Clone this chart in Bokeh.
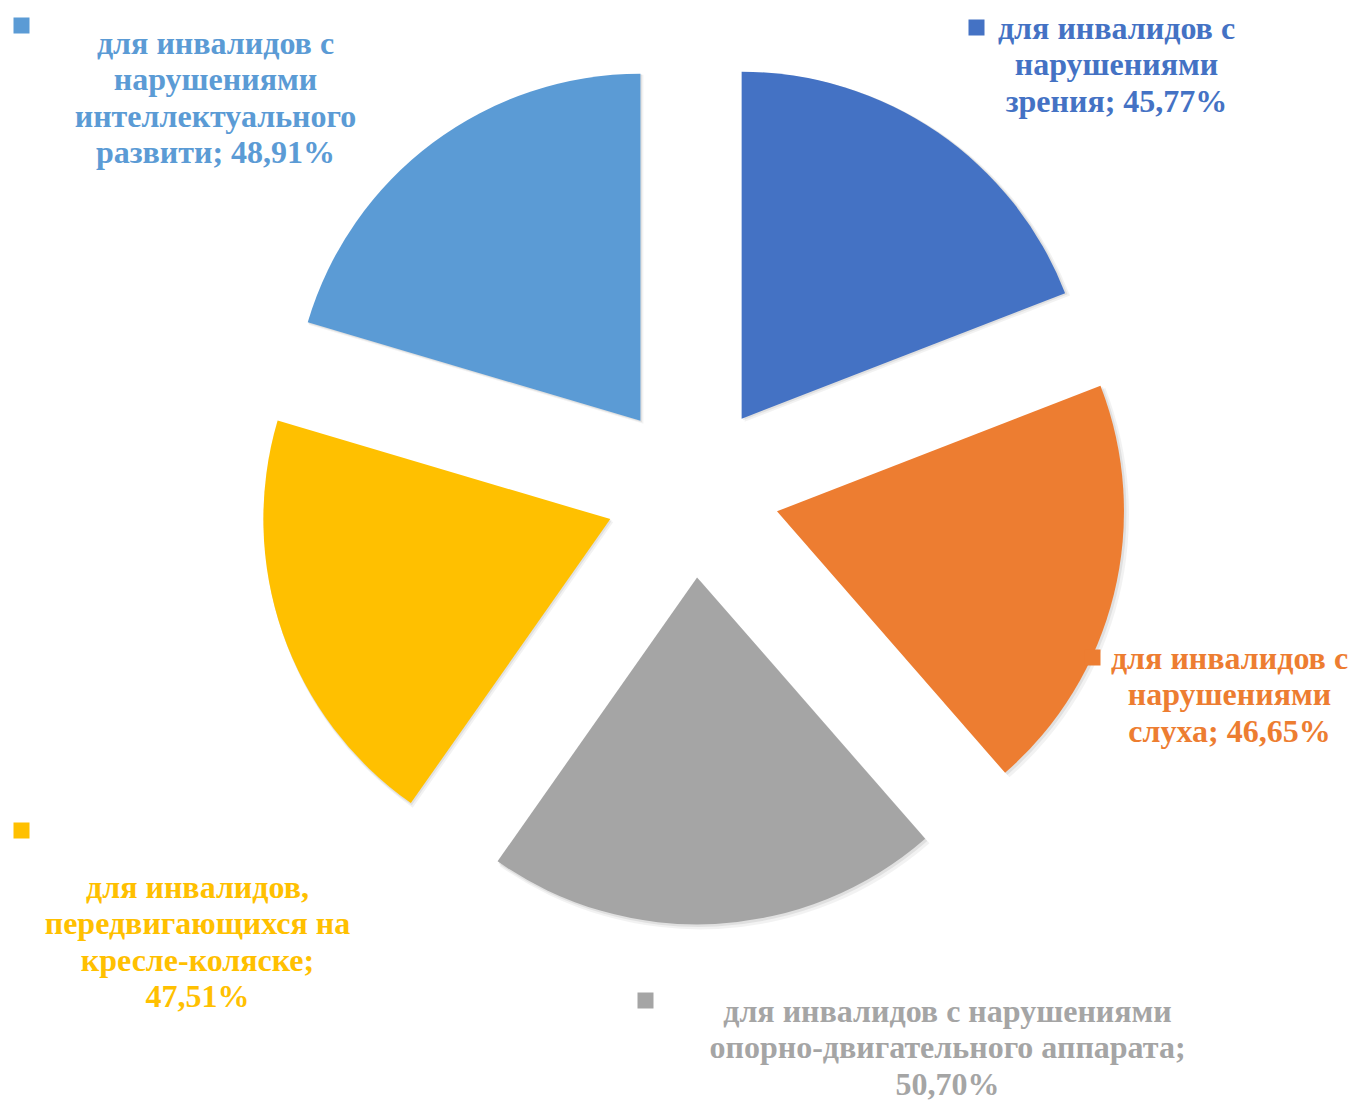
import math
from bokeh.plotting import figure
from bokeh.models import Range1d, ColumnDataSource
from bokeh.core.properties import value
from bokeh.embed import file_html
from bokeh.resources import INLINE

# ---- data ----
categories = [
    "для инвалидов с нарушениями зрения",
    "для инвалидов с нарушениями слуха",
    "для инвалидов с нарушениями опорно-двигательного аппарата",
    "для инвалидов, передвигающихся на кресле-коляске",
    "для инвалидов с нарушениями интеллектуального развити",
]
values = [45.77, 46.65, 50.70, 47.51, 48.91]
# label lines (text wrapping as in the original)
label_lines = [
    ["для инвалидов с", "нарушениями", "зрения; {v}"],
    ["для инвалидов с", "нарушениями", "слуха; {v}"],
    ["для инвалидов с нарушениями", "опорно-двигательного аппарата;", "{v}"],
    ["для инвалидов,", "передвигающихся на", "кресле-коляске;", "{v}"],
    ["для инвалидов с", "нарушениями", "интеллектуального", "развити; {v}"],
]

# ---- style / layout ----
colors = ["#4472C4", "#ED7D31", "#A5A5A5", "#FFC000", "#5B9BD5"]
W, H = 1352, 1100
CX, CY = 692, 490          # pie centre (page px)
R = 347
EXPLODE = 87
FONT = "Liberation Serif"
FONT_SIZE = "32px"
LINE_H = 36.5
# label block: centre x, y of first line (page px); legend key square centre
label_pos = [(1116, 27), (1229, 657), (947, 1010), (197, 886), (215, 42)]
key_pos = [(976, 27), (1092, 657), (645, 1000), (21, 830), (21, 25)]
KEY = 16


def dy(py):
    return H - py


p = figure(width=W, height=H, output_backend="svg", toolbar_location=None,
           x_range=Range1d(0, W), y_range=Range1d(0, H),
           min_border=0)
p.axis.visible = False
p.grid.visible = False
p.outline_line_color = None
p.background_fill_color = "white"

total = sum(values)
starts, ends, xs, ys = [], [], [], []
acc = 0.0
for v in values:
    a0 = acc / total * 2 * math.pi
    acc += v
    a1 = acc / total * 2 * math.pi
    mid = (a0 + a1) / 2
    starts.append(math.pi / 2 - a0)
    ends.append(math.pi / 2 - a1)
    xs.append(CX + EXPLODE * math.sin(mid))
    ys.append(dy(CY) + EXPLODE * math.cos(mid))

src = ColumnDataSource(dict(x=xs, y=ys, start=starts, end=ends, color=colors,
                            sx=[x + 3 for x in xs], sy=[y - 3 for y in ys],
                            sx2=[x + 1.5 for x in xs], sy2=[y - 1.5 for y in ys]))

# soft shadow
p.wedge(x="sx", y="sy", radius=R + 2, start_angle="start", end_angle="end",
        direction="clock", fill_color="black", fill_alpha=0.05, line_color=None, source=src)
p.wedge(x="sx2", y="sy2", radius=R + 1, start_angle="start", end_angle="end",
        direction="clock", fill_color="black", fill_alpha=0.07, line_color=None, source=src)
p.wedge(x="x", y="y", radius=R, start_angle="start", end_angle="end",
        direction="clock", fill_color="color", line_color=None, source=src)

# legend keys
p.rect(x=[k[0] for k in key_pos], y=[dy(k[1]) for k in key_pos], width=KEY, height=KEY,
       fill_color=colors, line_color=None)

# labels
tx, ty, tt, tc = [], [], [], []
for i, v in enumerate(values):
    vs = f"{v:.2f}".replace(".", ",") + "%"
    lx, ly = label_pos[i]
    for j, line in enumerate(label_lines[i]):
        tx.append(lx)
        ty.append(dy(ly + j * LINE_H))
        tt.append(line.format(v=vs))
        tc.append(colors[i])

p.text(x=tx, y=ty, text=tt, text_color=tc, text_align="center", text_baseline="middle",
       text_font=value(FONT), text_font_style="bold", text_font_size=FONT_SIZE)

open("out.html", "w").write(file_html(p, INLINE))
